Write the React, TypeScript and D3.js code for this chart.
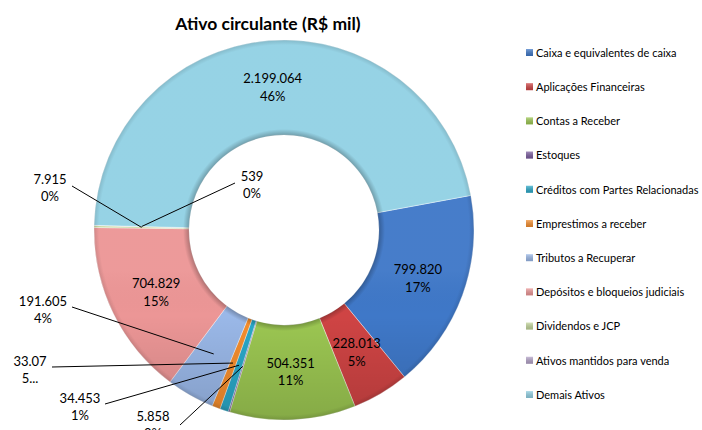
import React from "react";
import * as d3 from "d3";

const categories = [
  "Caixa e equivalentes de caixa",
  "Aplicações Financeiras",
  "Contas a Receber",
  "Estoques",
  "Créditos com Partes Relacionadas",
  "Emprestimos a receber",
  "Tributos a Recuperar",
  "Depósitos e bloqueios judiciais",
  "Dividendos e JCP",
  "Ativos mantidos para venda",
  "Demais Ativos",
];
const values = [799820, 228013, 504351, 5858, 34453, 33075, 191605, 704829, 7915, 539, 2199064];
const valueLabels = ["799.820", "228.013", "504.351", "5.858", "34.453", "33.07", "191.605", "704.829", "7.915", "539", "2.199.064"];
const pctLabels = ["17%", "5%", "11%", "0%", "1%", "5...", "4%", "15%", "0%", "0%", "46%"];
const colors = ["#3f78c8", "#cf4444", "#9cc752", "#7a5c9e", "#2aa8c8", "#f58e2e", "#9ab8e8", "#ec9696", "#c3d69b", "#b3a2c7", "#92d1e4"];

const W = 702, H = 430;
const cx = 284, cy = 230, rOuter = 190, rInner = 95;
const startDeg = 79.5;

// outside label layout (index -> text center / leader start)
const outside: Record<number, { x: number; y: number; lx: number; ly: number }> = {
  3: { x: 153, y: 416, lx: 180, ly: 425 },
  4: { x: 80, y: 398, lx: 105, ly: 404 },
  5: { x: 30, y: 361, lx: 52, ly: 367 },
  6: { x: 43, y: 301, lx: 72, ly: 307 },
  8: { x: 50, y: 179, lx: 72, ly: 186 },
  9: { x: 252, y: 176, lx: 235, ly: 183 },
};

export default function App() {
  const pie = d3
    .pie<number>()
    .sort(null)
    .value((d) => d)
    .startAngle((startDeg * Math.PI) / 180)
    .endAngle((startDeg * Math.PI) / 180 + 2 * Math.PI);
  const arcs = pie(values);
  const arc = d3.arc<d3.PieArcDatum<number>>().innerRadius(rInner).outerRadius(rOuter);
  const ring = d3.arc()({ innerRadius: rInner, outerRadius: rOuter, startAngle: 0, endAngle: 2 * Math.PI } as any) as string;
  const font = "Lato, 'Open Sans', sans-serif";
  const legendX = 526, legendY0 = 53, legendStep = 34.2;

  return (
    <div style={{ position: "fixed", left: 0, top: 0, width: W, height: H, background: "#fff" }}>
      <svg width={W} height={H} style={{ display: "block" }}>
        <defs>
          <linearGradient id="shade" gradientUnits="userSpaceOnUse" x1="0" y1={cy - rOuter} x2="0" y2={cy + rOuter}>
            <stop offset="0" stopColor="#fff" stopOpacity={0.04} />
            <stop offset="0.12" stopColor="#000" stopOpacity={0} />
            <stop offset="0.5" stopColor="#000" stopOpacity={0.2} />
            <stop offset="1" stopColor="#000" stopOpacity={0.26} />
          </linearGradient>
          <radialGradient id="bevel" gradientUnits="userSpaceOnUse" cx={0} cy={0} r={rOuter}>
            <stop offset={rInner / rOuter} stopColor="#000" stopOpacity={0.25} />
            <stop offset={(rInner + 6) / rOuter} stopColor="#000" stopOpacity={0} />
            <stop offset={(rOuter - 5) / rOuter} stopColor="#000" stopOpacity={0} />
            <stop offset={1} stopColor="#000" stopOpacity={0.12} />
          </radialGradient>
          <linearGradient id="lshade" x1="0" y1="0" x2="0" y2="1">
            <stop offset="0" stopColor="#fff" stopOpacity={0.3} />
            <stop offset="1" stopColor="#000" stopOpacity={0.15} />
          </linearGradient>
        </defs>
        <text x={268} y={30} textAnchor="middle" fontFamily={font} fontWeight="bold" fontSize={17.5} fill="#000">
          Ativo circulante (R$ mil)
        </text>
        <g transform={`translate(${cx},${cy})`}>
          {arcs.map((a, i) => (
            <path key={i} d={arc(a) as string} fill={colors[i]} stroke="#ffffff" strokeOpacity={0.5} strokeWidth={0.8} />
          ))}
          <path d={ring} fill="url(#shade)" />
          <path d={ring} fill="url(#bevel)" />
        </g>
        <g transform={`translate(${cx},${cy})`}>
          {arcs.map((a, i) => {
            const [mx, my] = arc.centroid(a);
            const o = outside[i];
            if (o) {
              return <line key={i} x1={o.lx - cx} y1={o.ly - cy} x2={mx} y2={my} stroke="#000" strokeWidth={1} />;
            }
            return null;
          })}
        </g>
        {arcs.map((a, i) => {
          const [mx, my] = arc.centroid(a);
          const o = outside[i];
          const x = o ? o.x : mx + cx;
          const y = o ? o.y : my + cy - 9;
          return (
            <text key={i} x={x} y={y} textAnchor="middle" fontFamily={font} fontSize={13} fill="#000">
              <tspan x={x} dy="0.35em">{valueLabels[i]}</tspan>
              <tspan x={x} dy="17.5">{pctLabels[i]}</tspan>
            </text>
          );
        })}
        {categories.map((c, i) => {
          const y = legendY0 + i * legendStep;
          return (
            <g key={c}>
              <rect x={legendX} y={y - 4} width={7} height={7} fill={colors[i]} />
              <rect x={legendX} y={y - 4} width={7} height={7} fill="url(#lshade)" />
              <text x={legendX + 10} y={y} dy="0.35em" fontFamily={font} fontSize={11} fill="#000">
                {c}
              </text>
            </g>
          );
        })}
      </svg>
    </div>
  );
}
